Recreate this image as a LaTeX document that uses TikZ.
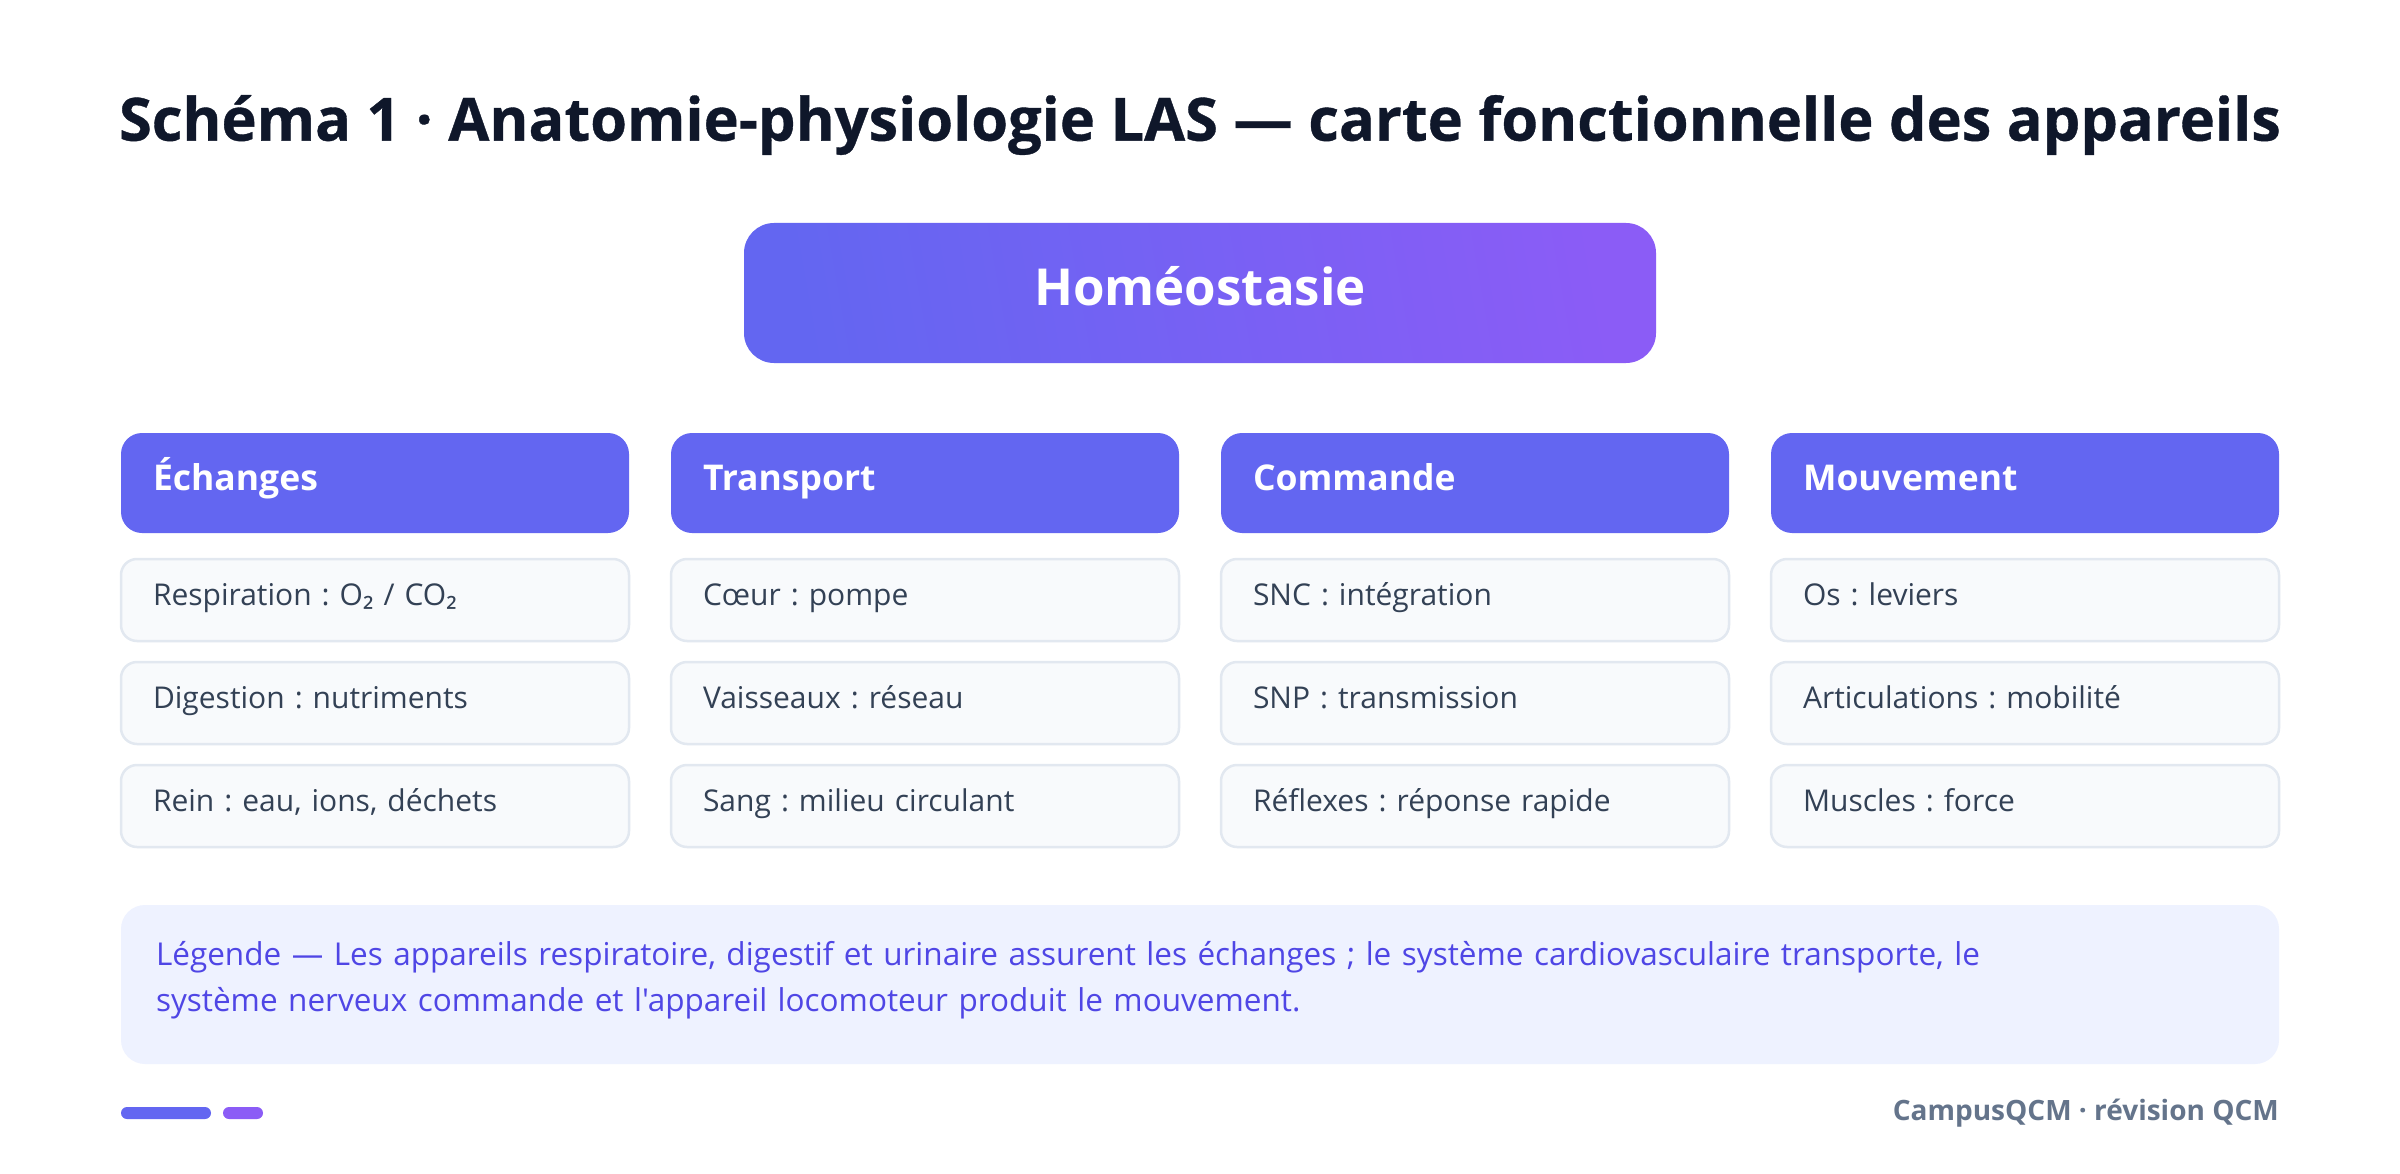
\documentclass[tikz,border=0pt]{standalone}
\usepackage{fontspec}
\setmainfont{Open Sans}[Ligatures=TeXOff]
\newfontfamily\subfont{Noto Sans}
\usetikzlibrary{positioning}
\frenchspacing

\definecolor{headfill}{HTML}{6366F1}
\definecolor{violetfill}{HTML}{8B5CF6}
\definecolor{titletext}{HTML}{0F172A}
\definecolor{itemtext}{HTML}{334155}
\definecolor{itemfill}{HTML}{F8FAFC}
\definecolor{itemline}{HTML}{E2E8F0}
\definecolor{legendfill}{HTML}{EEF2FF}
\definecolor{legendtext}{HTML}{4F46E5}
\definecolor{foottext}{HTML}{64748B}

\newcommand{\dix}{{\subfont ₂}}

\tikzset{
  headbox/.style={rounded corners=21pt, fill=headfill, text=white,
    minimum width=508pt, minimum height=100pt, inner xsep=32pt,
    text width=444pt, text height=24pt, text depth=10pt, align=left,
    font=\fontsize{35.5}{42}\selectfont\bfseries},
  itembox/.style={rounded corners=16pt, fill=itemfill, draw=itemline, line width=2.5pt,
    text=itemtext, minimum width=508pt, minimum height=82pt, inner xsep=32pt,
    text width=444pt, text height=21pt, text depth=11pt, align=left,
    font=\fontsize{30}{36}\selectfont},
}

\begin{document}
\begin{tikzpicture}[x=1pt,y=-1pt]
	\useasboundingbox (0,0) rectangle (2400,1174);
	\fill[white] (0,0) rectangle (2400,1174);
	\node[text=titletext, font=\fontsize{59.5}{70}\selectfont\bfseries\addfontfeature{FakeBold=0.6}] (title) at (1200,125)
		{Schéma 1 · Anatomie-physiologie LAS — carte fonctionnelle des appareils};
	% bloc central
	\shade[rounded corners=30pt, left color=headfill, right color=violetfill, shading angle=100]
		(744,223) rectangle (1656,363);
	\node[text=white, font=\fontsize{51}{61}\selectfont\bfseries] (homeo) at (1200,286) {Homéostasie};
	% colonnes
	\node[headbox] (echanges) at (375,483) {Échanges};
	\node[headbox] (transport) at (925,483) {Transport};
	\node[headbox] (commande) at (1475,483) {Commande};
	\node[headbox] (mouvement) at (2025,483) {Mouvement};
	\node[itembox] (resp) at (375,600) {Respiration : O\dix{} / CO\dix};
	\node[itembox] (dig) at (375,703) {Digestion : nutriments};
	\node[itembox] (rein) at (375,806) {Rein : eau, ions, déchets};
	\node[itembox] (coeur) at (925,600) {Cœur : pompe};
	\node[itembox] (vais) at (925,703) {Vaisseaux : réseau};
	\node[itembox] (sang) at (925,806) {Sang : milieu circulant};
	\node[itembox] (snc) at (1475,600) {SNC : intégration};
	\node[itembox] (snp) at (1475,703) {SNP : transmission};
	\node[itembox] (reflex) at (1475,806) {Réflexes : réponse rapide};
	\node[itembox] (os) at (2025,600) {Os : leviers};
	\node[itembox] (artic) at (2025,703) {Articulations : mobilité};
	\node[itembox] (musc) at (2025,806) {Muscles : force};
	% legende
	\fill[legendfill, rounded corners=24pt] (121,905) rectangle (2279,1064);
	\node[text=legendtext, inner xsep=35pt, text width=2088pt, align=left,
		font=\fontsize{31.5}{46}\selectfont] (legende) at (1200,980)
		{Légende — Les appareils respiratoire, digestif et urinaire assurent les échanges ; le système cardiovasculaire transporte, le\\
		système nerveux commande et l'appareil locomoteur produit le mouvement.};
	% pied de page
	\fill[headfill, rounded corners=6pt] (121,1107) rectangle (211,1119);
	\fill[violetfill, rounded corners=6pt] (223,1107) rectangle (263,1119);
	\node[anchor=east, inner sep=0pt, text=foottext, font=\fontsize{28}{34}\selectfont\bfseries] (pied) at (2279,1113)
		{CampusQCM · révision QCM};
\end{tikzpicture}
\end{document}
